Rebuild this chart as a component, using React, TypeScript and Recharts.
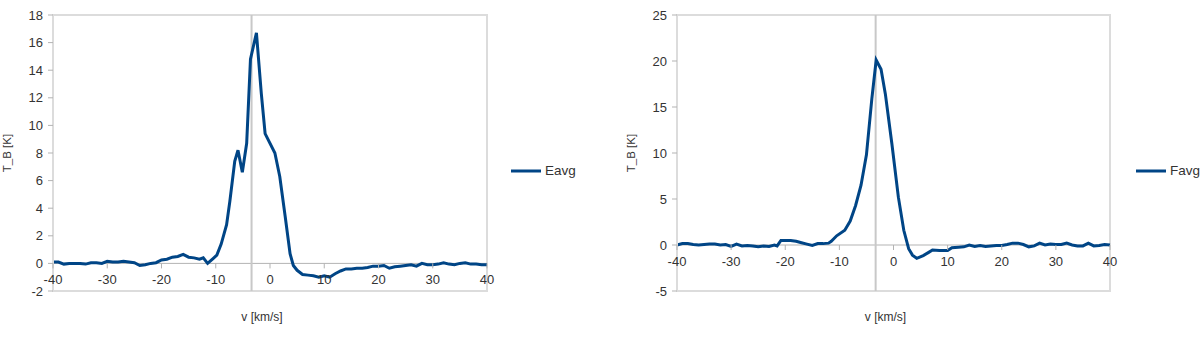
import { Legend, Line, LineChart, ReferenceArea, ReferenceLine, XAxis, YAxis } from 'recharts';

// velocity [km/s] and brightness temperature [K]
const eVel = [
  -40, -39, -38, -37, -36, -35, -34, -33, -32, -31, -30, -29, -28, -27, -26, -25, -24, -23, -22, -21,
  -20, -19, -18, -17, -16, -15, -14, -13, -12.3, -11.5, -10.5, -9.8, -9, -8, -7.4, -6.5, -5.9, -5.1,
  -4.3, -3.6, -2.5, -1.6, -0.9, 0.9, 1.8, 2.8, 3.7, 4.3, 5, 6, 7, 8, 9, 10, 11, 12, 13, 14, 15, 16,
  17, 18, 19, 20, 21, 22, 23, 24, 25, 26, 27, 28, 29, 30, 31, 32, 33, 34, 35, 36, 37, 38, 39, 40,
];
const eTemp = [
  0.1, 0.1, -0.05, 0, 0, 0, -0.05, 0.05, 0.05, 0, 0.15, 0.1, 0.1, 0.15, 0.1, 0.05, -0.15, -0.1, 0, 0.05,
  0.25, 0.3, 0.45, 0.5, 0.65, 0.45, 0.4, 0.3, 0.4, 0, 0.35, 0.6, 1.4, 2.8, 4.5, 7.4, 8.2, 6.6,
  8.7, 14.8, 16.7, 12.3, 9.4, 8.0, 6.3, 3.4, 0.7, -0.15, -0.5, -0.8, -0.85, -0.9, -1.0, -0.9, -1.0, -0.75, -0.55, -0.4, -0.4, -0.35,
  -0.35, -0.3, -0.2, -0.2, -0.15, -0.35, -0.25, -0.2, -0.15, -0.1, -0.2, 0, -0.1, -0.1, -0.05, 0.05, -0.05, -0.1, 0, 0.05, -0.05, -0.05, -0.1, -0.1,
];

const fVel = [
  -40, -39, -38, -37, -36, -35, -34, -33, -32, -31, -30, -29, -28, -27, -26, -25, -24, -23, -22, -21.5,
  -20.8, -20, -19, -18, -17, -16, -15, -14, -13, -12, -11.5, -10.5, -9, -8, -7, -6, -5, -4, -3.2, -2.3,
  -1.5, -0.3, 0.9, 1.9, 2.8, 3.5, 4.3, 5.5, 6.5, 7.2, 8.5, 10, 10.8, 12, 13, 14, 15, 16, 17, 18,
  19, 20, 21, 22, 23, 24, 25, 26, 27, 28, 29, 30, 31, 32, 33, 34, 35, 36, 37, 38, 39, 40,
];
const fTemp = [
  0, 0.15, 0.15, 0.05, 0, 0.05, 0.1, 0.1, 0, 0.05, -0.15, 0.1, -0.1, -0.05, -0.1, -0.2, -0.1, -0.15, 0, -0.1,
  0.5, 0.5, 0.5, 0.4, 0.25, 0.1, -0.05, 0.15, 0.15, 0.2, 0.4, 1.0, 1.6, 2.6, 4.3, 6.5, 9.8, 15.9, 20.1, 19.1,
  16.4, 11.0, 5.2, 1.6, -0.4, -1.1, -1.45, -1.15, -0.8, -0.55, -0.6, -0.6, -0.3, -0.25, -0.2, 0, -0.15, -0.05, -0.15, -0.1,
  -0.05, -0.05, 0.05, 0.2, 0.2, 0.05, -0.2, -0.1, 0.2, 0, 0.1, 0.05, 0.05, 0.2, 0, -0.1, -0.1, 0.2, -0.1, -0.05, 0.05, 0,
];

const xTicks = [-40, -30, -20, -10, 0, 10, 20, 30, 40];
const eYTicks = [-2, 0, 2, 4, 6, 8, 10, 12, 14, 16, 18];
const fYTicks = [-5, 0, 5, 10, 15, 20, 25];

const BLUE = '#004586';
const TEXT = '#333333';
const FONT = '"Liberation Sans", Arial, sans-serif';
const CH_W = 600;
const CH_H = 343;
const TOP = 15;
const X_AXIS_H = 52;
const PLOT_H = CH_H - TOP - X_AXIS_H;

type Props = {
  name: string;
  vel: number[];
  temp: number[];
  yTicks: number[];
  axisX: number; // where the vertical axis crosses
  yAxisW: number;
  right: number;
  legendLeft: number;
};

const Spectrum = ({ name, vel, temp, yTicks, axisX, yAxisW, right, legendLeft }: Props) => {
  const data = vel.map((v, i) => ({ v, t: temp[i] }));
  const yMin = yTicks[0];
  const yMax = yTicks[yTicks.length - 1];
  const zeroShift = (PLOT_H * (0 - yMin)) / (yMax - yMin);

  const XTick = ({ x, y, payload }: any) => (
    <g>
      <line x1={x} x2={x} y1={y - zeroShift} y2={y - zeroShift + 5} stroke="#b3b3b3" />
      <text x={x} y={y - zeroShift + 16} textAnchor="middle" dominantBaseline="central" fill={TEXT} fontSize={13} fontFamily={FONT}>
        {payload.value}
      </text>
    </g>
  );

  return (
    <LineChart width={CH_W} height={CH_H} data={data} margin={{ top: TOP, right, bottom: 0, left: 0 }}>
      <ReferenceArea x1={-40} x2={40} y1={yMin} y2={yMax} fill="none" stroke="#dcdcdc" strokeWidth={2} ifOverflow="visible" />
      <ReferenceLine y={0} stroke="#b3b3b3" />
      <ReferenceLine x={axisX} stroke="#c8c8c8" strokeWidth={2} />
      <XAxis
        type="number"
        dataKey="v"
        domain={[-40, 40]}
        ticks={xTicks}
        axisLine={false}
        tickLine={false}
        tickSize={0}
        tickMargin={0}
        height={X_AXIS_H}
        tick={<XTick />}
        label={({ viewBox }: any) => (
          <text x={viewBox.x + viewBox.width / 2 - 8} y={viewBox.y + 26} textAnchor="middle" dominantBaseline="central" fill={TEXT} fontSize={12} fontFamily={FONT}>
            v [km/s]
          </text>
        )}
      />
      <YAxis
        type="number"
        domain={[yMin, yMax]}
        ticks={yTicks}
        width={yAxisW}
        axisLine={{ stroke: '#dcdcdc', strokeWidth: 2 }}
        tickLine={{ stroke: '#b3b3b3' }}
        tickSize={5}
        tickMargin={5}
        tick={{ fill: TEXT, fontSize: 13, fontFamily: FONT }}
        label={({ viewBox }: any) => {
          const cx = viewBox.x + yAxisW - 46;
          const cy = viewBox.y + viewBox.height / 2;
          return (
            <text x={cx} y={cy} transform={`rotate(-90 ${cx} ${cy})`} textAnchor="middle" dominantBaseline="central" fill={TEXT} fontSize={11.5} fontFamily={FONT}>
              T_B [K]
            </text>
          );
        }}
      />
      <Legend
        layout="vertical"
        align="center"
        verticalAlign="middle"
        wrapperStyle={{ left: legendLeft, top: 163, width: 80 }}
        content={() => (
          <div style={{ display: 'flex', alignItems: 'center', fontFamily: FONT, fontSize: 13.5, color: TEXT }}>
            <svg width={30} height={6} style={{ marginRight: 4 }}>
              <line x1={0} x2={30} y1={3} y2={3} stroke={BLUE} strokeWidth={3} />
            </svg>
            {name}
          </div>
        )}
      />
      <Line type="linear" dataKey="t" name={name} stroke={BLUE} strokeWidth={3} dot={false} isAnimationActive={false} />
    </LineChart>
  );
};

export default function App() {
  return (
    <div style={{ position: 'absolute', left: 0, top: 0, width: 1200, height: 343, display: 'flex', background: '#fff' }}>
      <Spectrum name="Eavg" vel={eVel} temp={eTemp} yTicks={eYTicks} axisX={-3.4} yAxisW={53} right={113} legendLeft={511} />
      <Spectrum name="Favg" vel={fVel} temp={fTemp} yTicks={fYTicks} axisX={-3.3} yAxisW={77} right={90} legendLeft={536} />
    </div>
  );
}
